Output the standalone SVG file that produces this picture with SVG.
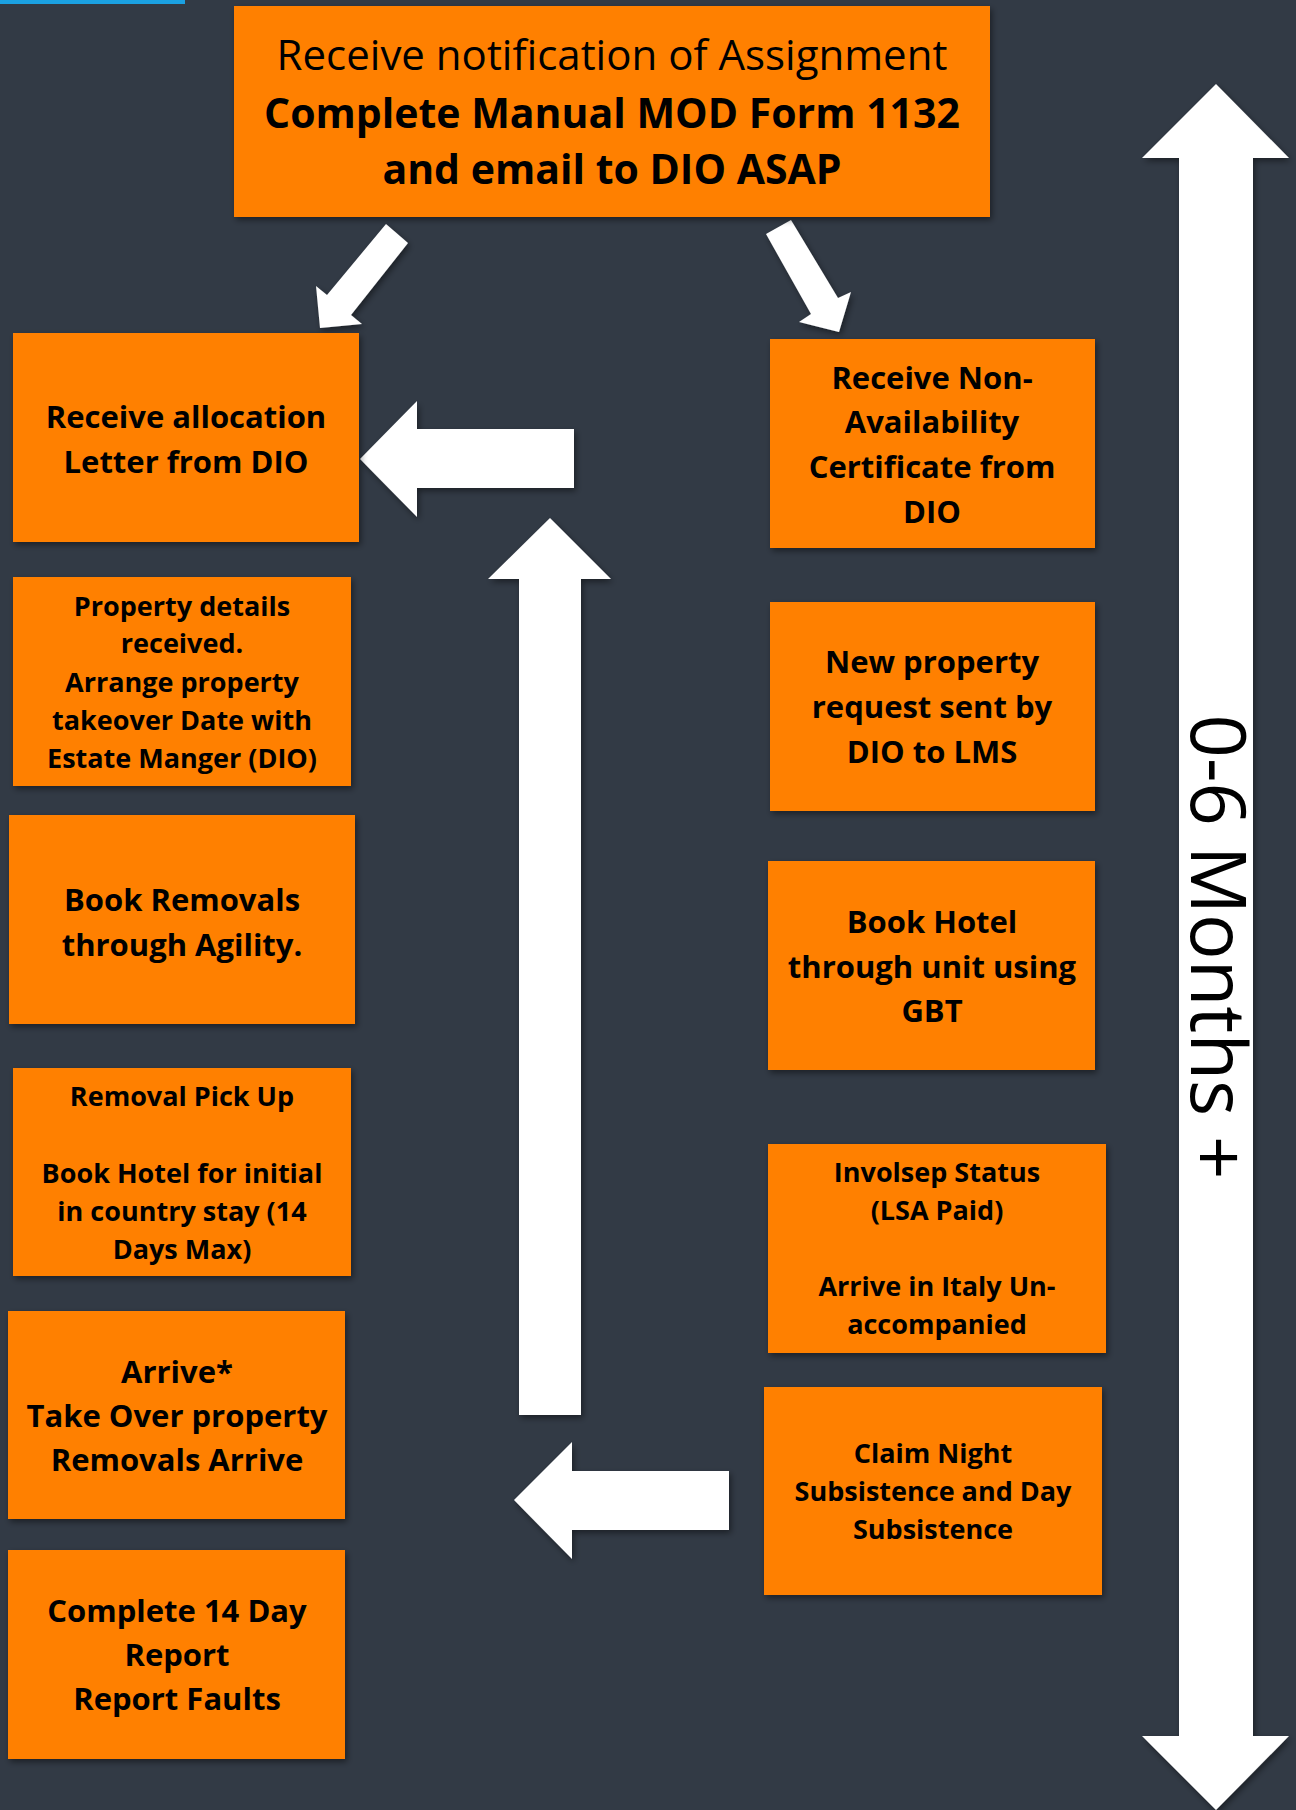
<svg xmlns="http://www.w3.org/2000/svg" width="1296" height="1810" viewBox="0 0 1296 1810">
<defs>
<filter id="sh" x="-10%" y="-10%" width="125%" height="125%">
<feDropShadow dx="2" dy="3" stdDeviation="3" flood-color="#000" flood-opacity="0.45"/>
</filter>
<style>
.box{fill:#ff8000;filter:url(#sh)}
.arr{fill:#ffffff;filter:url(#sh)}
.t{font-family:"Open Sans","Noto Sans","Liberation Sans",sans-serif;font-weight:bold;fill:#000;text-anchor:middle}
.b{font-size:31px}
.s{font-size:27px}
.reg{font-weight:normal}
</style>
</defs>
<rect x="0" y="0" width="1296" height="1810" fill="#323a45"/>
<rect x="0" y="0" width="185" height="4" fill="#1ba1e2"/>

<g id="connectors">
<polygon class="arr" points="386,224 408,243 351,315 362,324 320,328 316,286 327,295"/>
<polygon class="arr" points="766,234 791,220 838,298 851,292 839,332 799,322 811,314"/>
<polygon class="arr" points="360,459 417,401 417,429 574,429 574,488 417,488 417,517"/>
<polygon class="arr" points="550,518 611,579 581,579 581,1415 519,1415 519,579 488,579"/>
<polygon class="arr" points="514,1500 572,1442 572,1471 729,1471 729,1530 572,1530 572,1559"/>
<polygon class="arr" points="1216,84 1289,158 1253,158 1253,1736 1289,1736 1216,1810 1142,1736 1179,1736 1179,158 1142,158"/>
</g>

<g id="timeline-label">
<text class="t reg" font-size="76" transform="translate(1191,947) rotate(90)">0-6 Months +</text>
</g>

<g id="n-start">
<rect class="box" x="234" y="6" width="756" height="211"/>
<text class="t reg" x="612" y="70" font-size="42">Receive notification of Assignment</text>
<text class="t" x="612" y="128" font-size="41">Complete Manual MOD Form 1132</text>
<text class="t" x="612" y="184" font-size="41">and email to DIO ASAP</text>
</g>

<g id="n-allocation">
<rect class="box" x="13" y="333" width="346" height="209"/>
<text class="t b" x="186" y="428">Receive allocation</text>
<text class="t b" x="186" y="473">Letter from DIO</text>
</g>

<g id="n-nac">
<rect class="box" x="770" y="339" width="325" height="209"/>
<text class="t b" x="932" y="389">Receive Non-</text>
<text class="t b" x="932" y="433">Availability</text>
<text class="t b" x="932" y="478">Certificate from</text>
<text class="t b" x="932" y="523">DIO</text>
</g>

<g id="n-property-details">
<rect class="box" x="13" y="577" width="338" height="209"/>
<text class="t s" x="182" y="616">Property details</text>
<text class="t s" x="182" y="653">received.</text>
<text class="t s" x="182" y="692">Arrange property</text>
<text class="t s" x="182" y="730">takeover Date with</text>
<text class="t s" x="182" y="768">Estate Manger (DIO)</text>
</g>

<g id="n-new-property">
<rect class="box" x="770" y="602" width="325" height="209"/>
<text class="t b" x="932" y="673">New property</text>
<text class="t b" x="932" y="718">request sent by</text>
<text class="t b" x="932" y="763">DIO to LMS</text>
</g>

<g id="n-book-removals">
<rect class="box" x="9" y="815" width="346" height="209"/>
<text class="t b" x="182" y="911">Book Removals</text>
<text class="t b" x="182" y="956">through Agility.</text>
</g>

<g id="n-book-hotel">
<rect class="box" x="768" y="861" width="327" height="209"/>
<text class="t b" x="932" y="933">Book Hotel</text>
<text class="t b" x="932" y="978">through unit using</text>
<text class="t b" x="932" y="1022">GBT</text>
</g>

<g id="n-removal-pickup">
<rect class="box" x="13" y="1068" width="338" height="208"/>
<text class="t s" x="182" y="1106">Removal Pick Up</text>
<text class="t s" x="182" y="1183">Book Hotel for initial</text>
<text class="t s" x="182" y="1221">in country stay (14</text>
<text class="t s" x="182" y="1259">Days Max)</text>
</g>

<g id="n-involsep">
<rect class="box" x="768" y="1144" width="338" height="209"/>
<text class="t s" x="937" y="1182">Involsep Status</text>
<text class="t s" x="937" y="1220">(LSA Paid)</text>
<text class="t s" x="937" y="1296">Arrive in Italy Un-</text>
<text class="t s" x="937" y="1334">accompanied</text>
</g>

<g id="n-arrive">
<rect class="box" x="8" y="1311" width="337" height="208"/>
<text class="t b" x="177" y="1383">Arrive*</text>
<text class="t b" x="177" y="1427">Take Over property</text>
<text class="t b" x="177" y="1471">Removals Arrive</text>
</g>

<g id="n-claim">
<rect class="box" x="764" y="1387" width="338" height="208"/>
<text class="t s" x="933" y="1463">Claim Night</text>
<text class="t s" x="933" y="1501">Subsistence and Day</text>
<text class="t s" x="933" y="1539">Subsistence</text>
</g>

<g id="n-report">
<rect class="box" x="8" y="1550" width="337" height="209"/>
<text class="t b" x="177" y="1622">Complete 14 Day</text>
<text class="t b" x="177" y="1666">Report</text>
<text class="t b" x="177" y="1710">Report Faults</text>
</g>
</svg>
